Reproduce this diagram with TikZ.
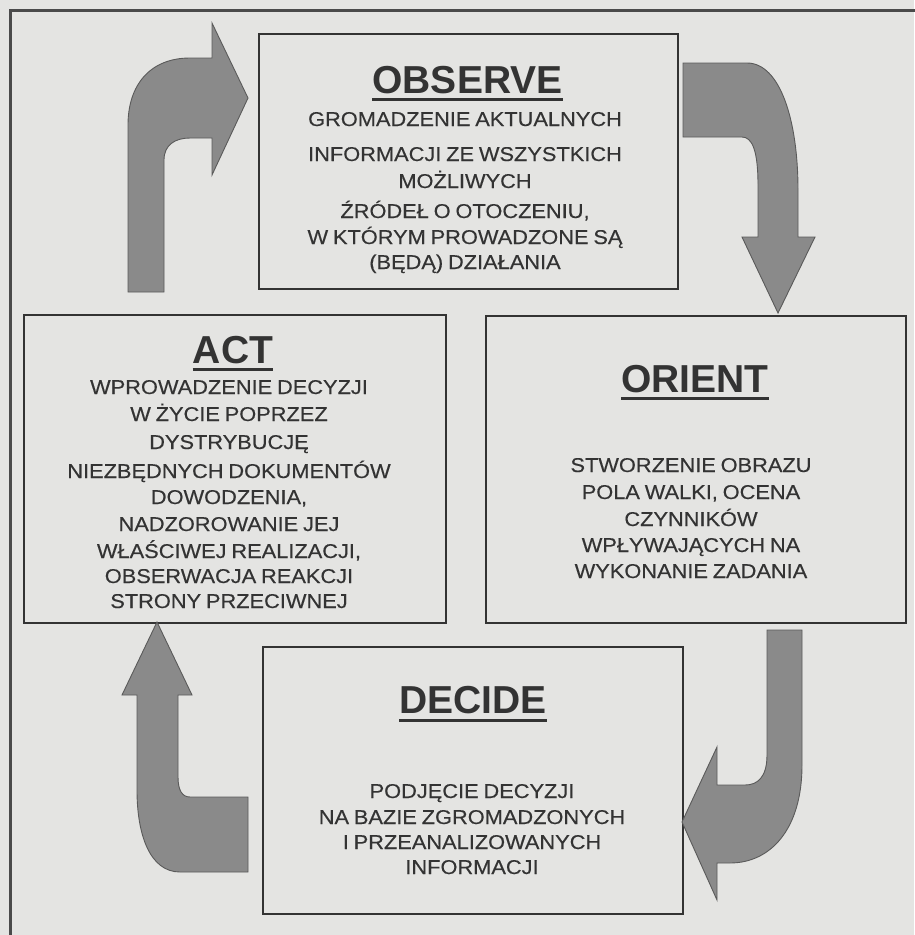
\documentclass[tikz,border=0pt]{standalone}
\usepackage{fontspec}
\setmainfont{Liberation Sans}
\newfontfamily\bodyfont{Liberation Sans}[FakeStretch=1.09, FakeBold=0.35, WordSpace=0.8]
\usetikzlibrary{calc}
\definecolor{paper}{HTML}{E4E4E2}
\definecolor{ink}{HTML}{333333}
\definecolor{arrowfill}{HTML}{8A8A8A}
\definecolor{arrowline}{HTML}{5A5A5A}
\definecolor{frameline}{HTML}{4A4A4A}

\begin{document}
\begin{tikzpicture}[x=1pt,y=-1pt,
  panel/.style={draw=ink, line width=1.6pt, anchor=north west, inner sep=0pt},
  heading/.style={font=\fontsize{39}{40}\selectfont\bfseries, text=ink, anchor=base, inner sep=0pt},
  bodyline/.style={font=\bodyfont\fontsize{20}{22}\selectfont, text=ink, anchor=base, inner sep=0pt},
  headrule/.style={draw=ink, line width=3pt},
  bigarrow/.style={fill=arrowfill, draw=arrowline, line width=0.9pt, line join=miter}
]
% page
\fill[paper] (0,0) rectangle (914,935);
\useasboundingbox (0,0) rectangle (914,935);

% outer frame (top and left edges)
\draw[frameline, line width=3pt] (10,940) -- (10,10) -- (920,10);

% the four panels
\node[panel, minimum width=419pt, minimum height=255pt] (observe) at (258,33) {};
\node[panel, minimum width=422pt, minimum height=308pt] (act) at (23,314) {};
\node[panel, minimum width=420pt, minimum height=307pt] (orient) at (485,315) {};
\node[panel, minimum width=420pt, minimum height=267pt] (decide) at (262,646) {};

% OBSERVE
\node[heading] (tObs) at (467.5,93) {OBSERVE};
\draw[headrule] ($(tObs.base west)+(0,6)$) -- ($(tObs.base east)+(0,6)$);
\node[bodyline] (o1) at (465,126) {GROMADZENIE AKTUALNYCH};
\node[bodyline] (o2) at (465,161) {INFORMACJI ZE WSZYSTKICH};
\node[bodyline] (o3) at (465,188) {MOŻLIWYCH};
\node[bodyline] (o4) at (465,218) {ŹRÓDEŁ O OTOCZENIU,};
\node[bodyline] (o5) at (465,244) {W KTÓRYM PROWADZONE SĄ};
\node[bodyline] (o6) at (465,269) {(BĘDĄ) DZIAŁANIA};

% ACT
\node[heading] (tAct) at (233,363) {ACT};
\draw[headrule] ($(tAct.base west)+(0,6.5)$) -- ($(tAct.base east)+(0,6.5)$);
\node[bodyline] (a1) at (229,394) {WPROWADZENIE DECYZJI};
\node[bodyline] (a2) at (229,421) {W ŻYCIE POPRZEZ};
\node[bodyline] (a3) at (229,449) {DYSTRYBUCJĘ};
\node[bodyline] (a4) at (229,478) {NIEZBĘDNYCH DOKUMENTÓW};
\node[bodyline] (a5) at (229,504) {DOWODZENIA,};
\node[bodyline] (a6) at (229,531) {NADZOROWANIE JEJ};
\node[bodyline] (a7) at (229,558) {WŁAŚCIWEJ REALIZACJI,};
\node[bodyline] (a8) at (229,583) {OBSERWACJA REAKCJI};
\node[bodyline] (a9) at (229,608) {STRONY PRZECIWNEJ};

% ORIENT
\node[heading] (tOri) at (695,392) {ORIENT};
\draw[headrule] ($(tOri.base west)+(0,6.5)$) -- ($(tOri.base east)+(0,6.5)$);
\node[bodyline] (r1) at (691,472) {STWORZENIE OBRAZU};
\node[bodyline] (r2) at (691,499) {POLA WALKI, OCENA};
\node[bodyline] (r3) at (691,526) {CZYNNIKÓW};
\node[bodyline] (r4) at (691,552) {WPŁYWAJĄCYCH NA};
\node[bodyline] (r5) at (691,578) {WYKONANIE ZADANIA};

% DECIDE
\node[heading] (tDec) at (473,713) {DECIDE};
\draw[headrule] ($(tDec.base west)+(0,7)$) -- ($(tDec.base east)+(0,7)$);
\node[bodyline] (d1) at (472,798) {PODJĘCIE DECYZJI};
\node[bodyline] (d2) at (472,824) {NA BAZIE ZGROMADZONYCH};
\node[bodyline] (d3) at (472,849) {I PRZEANALIZOWANYCH};
\node[bodyline] (d4) at (472,874) {INFORMACJI};

% bent block arrows of the cycle
% ACT -> OBSERVE
\draw[bigarrow] (128,292) -- (128,125) .. controls (128,85) and (150,58) .. (190,58)
  -- (212,58) -- (212,23) -- (248,98) -- (212,175) -- (212,138) -- (190,138)
  .. controls (175,138) and (164,145) .. (164,160) -- (164,292) -- cycle;
% OBSERVE -> ORIENT
\draw[bigarrow] (683,63) -- (747,63) .. controls (780,63) and (798,120) .. (798,190)
  -- (798,237) -- (815,237) -- (778,313) -- (742,237) -- (758,237) -- (758,185)
  .. controls (758,150) and (752,137) .. (742,137) -- (683,137) -- cycle;
% ORIENT -> DECIDE
\draw[bigarrow] (767,630) -- (802,630) -- (802,765) .. controls (802,830) and (770,863) .. (730,863)
  -- (717,863) -- (717,900) -- (682,822) -- (717,747) -- (717,785) -- (745,785)
  .. controls (757,785) and (767,778) .. (767,755) -- cycle;
% DECIDE -> ACT
\draw[bigarrow] (248,872) -- (180,872) .. controls (150,872) and (137,835) .. (137,790)
  -- (137,695) -- (122,695) -- (157,622) -- (192,695) -- (178,695) -- (178,777)
  .. controls (178,790) and (182,797) .. (190,797) -- (248,797) -- cycle;
\end{tikzpicture}
\end{document}
